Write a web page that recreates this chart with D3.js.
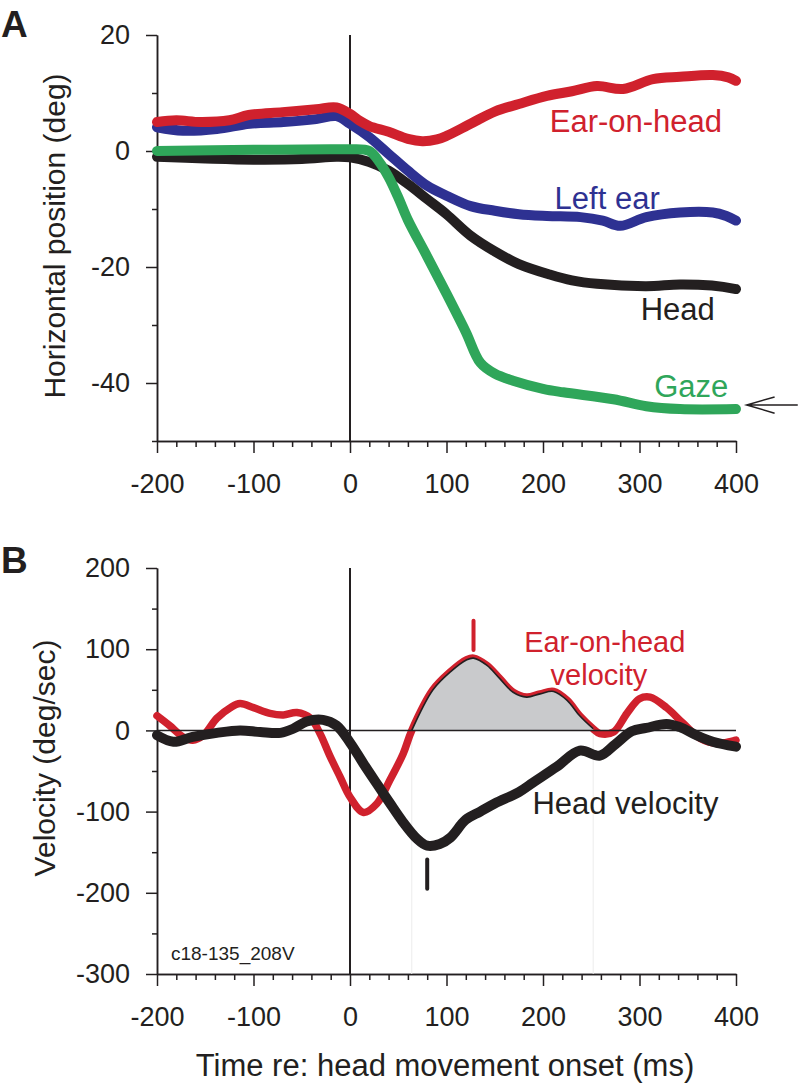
<!DOCTYPE html>
<html>
<head>
<meta charset="utf-8">
<script src="https://cdn.jsdelivr.net/npm/d3@7"></script>
<style>
    body { margin: 0; background: #fff; }
    text { font-family: "Liberation Sans", Arial, Helvetica, sans-serif; fill: #231f20; }
</style>
</head>
<body>
<div id="chart"></div>
<script>
// panel A: horizontal position (deg), [time ms, value]
const earOnHead = [[-200, 5.0], [-180, 5.3], [-155, 5.0], [-125, 5.3], [-105, 6.2], [-70, 6.7], [-35, 7.2], [-14, 7.5], [0, 6.4], [10, 5.2], [20, 4.3], [40, 3.3], [60, 2.1], [75, 1.7], [90, 2.0], [100, 2.6], [125, 4.7], [150, 6.8], [175, 8.1], [204, 9.5], [230, 10.3], [256, 11.2], [283, 10.7], [314, 12.4], [342, 12.8], [376, 13.1], [392, 12.7], [400, 12.1]]
const leftEar = [[-200, 4.1], [-173, 3.5], [-138, 3.8], [-104, 4.7], [-69, 5.0], [-35, 5.5], [-14, 6.0], [0, 4.7], [20, 2.4], [40, -0.5], [60, -3.4], [80, -6.0], [100, -7.7], [125, -9.5], [150, -10.3], [175, -10.9], [204, -11.2], [239, -11.4], [262, -12.0], [280, -12.9], [307, -11.4], [342, -10.6], [376, -10.6], [390, -11.2], [400, -12.0]]
const head = [[-200, -1.0], [-150, -1.3], [-100, -1.5], [-50, -1.4], [-14, -1.0], [0, -1.1], [20, -1.9], [40, -3.4], [60, -5.7], [80, -8.3], [100, -10.9], [125, -14.6], [150, -17.3], [175, -19.5], [207, -21.3], [230, -22.3], [256, -22.9], [307, -23.3], [342, -23.0], [375, -23.2], [400, -23.8]]
const gaze = [[-200, 0], [-100, 0.2], [-20, 0.3], [0, 0.3], [20, 0], [30, -1.8], [40, -4.5], [50, -8], [60, -11.9], [80, -18.2], [100, -24.6], [120, -31.2], [135, -36.5], [150, -38.4], [169, -39.6], [200, -41.0], [221, -41.6], [273, -42.8], [307, -44.0], [342, -44.5], [400, -44.5]]

// panel B: velocity (deg/sec)
const earVelocity = [[-200, 18], [-187, 6], [-173, -8], [-163, -12], [-152, -6], [-138, 15], [-124, 28], [-114, 33], [-100, 28], [-83, 21], [-69, 19], [-55, 22], [-41, 15], [-31, -4], [-21, -31], [-10, -58], [0, -82], [14, -101], [28, -90], [41, -62], [55, -29], [64, 0], [86, 50], [104, 72], [121, 87], [128, 89], [142, 80], [155, 64], [169, 47], [183, 41], [197, 45], [211, 48], [225, 37], [238, 18], [252, 2], [259, -4], [273, -2], [287, 21], [300, 39], [311, 41], [328, 28], [345, 9], [363, -10], [380, -16], [400, -12]]
const headVelocity = [[-200, -6], [-183, -14], [-163, -8], [-138, -3], [-114, 0], [-93, -2], [-72, -3], [-59, 2], [-45, 11], [-28, 13], [-14, 6], [0, -15], [14, -41], [28, -66], [41, -89], [55, -113], [69, -133], [80, -142], [93, -140], [104, -132], [120, -110], [135, -100], [150, -90], [175, -76], [190, -64], [214, -45], [238, -25], [259, -31], [275, -17], [292, -1], [307, 3], [328, 8], [342, 4], [359, -6], [376, -14], [400, -20]]
const shadeWindow = [64, 252]
const earPeak = 128, headPeak = 80

// ticks
const xMajor = [-200, -100, 0, 100, 200, 300, 400]
const yAMajor = [20, 0, -20, -40], yAMinor = [10, -10, -30, -50]
const yBMajor = [200, 100, 0, -100, -200, -300], yBMinor = [150, 50, -50, -150, -250]

const red = "#d0212d", blue = "#2e3192", green = "#2fa65a", black = "#231f20"

const svg = d3.select("#chart").append("svg")
    .attr("width", 801)
    .attr("height", 1084)

const x = d3.scaleLinear().domain([-200, 400]).range([157, 736])
const yA = d3.scaleLinear().domain([-50, 20]).range([441, 35])
const yB = d3.scaleLinear().domain([-300, 200]).range([974, 568])

const font = '"Liberation Sans", Arial, Helvetica, sans-serif'
const xMinor = d3.range(-200, 401, 20).filter(d => d % 100 !== 0)

// draw axes for one panel
const drawAxes = (y) => {
    const left = x.range()[0], base = y.range()[0]
    const styleAxis = g => g
        .attr("font-family", font)
        .attr("font-size", 27)
        .call(g => g.selectAll("path, line").attr("stroke", black).attr("stroke-width", 1.5))
        .call(g => g.selectAll("text").attr("fill", black))

    const yMaj = y === yA ? yAMajor : yBMajor
    const yMin = y === yA ? yAMinor : yBMinor

    svg.append("g").attr("transform", `translate(${left},0)`)
        .call(d3.axisLeft(y).tickValues(yMin).tickSize(5).tickFormat("").tickSizeOuter(0))
        .call(styleAxis)
    svg.append("g").attr("transform", `translate(${left},0)`)
        .call(d3.axisLeft(y).tickValues(yMaj).tickSize(11).tickPadding(16).tickSizeOuter(0).tickFormat(d => String(d)))
        .call(styleAxis)

    svg.append("g").attr("transform", `translate(0,${base})`)
        .call(d3.axisBottom(x).tickValues(xMinor).tickSize(6).tickFormat("").tickSizeOuter(0))
        .call(styleAxis)
    svg.append("g").attr("transform", `translate(0,${base})`)
        .call(d3.axisBottom(x).tickValues(xMajor).tickSize(12).tickPadding(21).tickSizeOuter(0).tickFormat(d => String(d)))
        .call(styleAxis)

    // onset line
    svg.append("line")
        .attr("x1", x(0)).attr("x2", x(0))
        .attr("y1", y.range()[1]).attr("y2", base)
        .attr("stroke", black).attr("stroke-width", 2)
}

const lineOf = (y) => d3.line()
    .x(d => x(d[0]))
    .y(d => y(d[1]))
    .curve(d3.curveCatmullRom.alpha(0.5))

const addLabel = (t, v, y, txt, color, anchor, size) => {
    svg.append("text")
        .attr("x", x(t)).attr("y", y(v))
        .attr("text-anchor", anchor || "start")
        .style("font-size", (size || 31) + "px")
        .style("fill", color)
        .text(txt)
}

/*
    PANEL A
*/
drawAxes(yA)

const seriesA = [[leftEar, blue], [head, black], [gaze, green], [earOnHead, red]]
seriesA.forEach(([data, color]) => {
    svg.append("path")
        .datum(data)
        .attr("d", lineOf(yA))
        .attr("fill", "none")
        .attr("stroke", color)
        .attr("stroke-width", 10)
        .attr("stroke-linecap", "round")
        .attr("stroke-linejoin", "round")
})

addLabel(207, 3.3, yA, "Ear-on-head", red)
addLabel(212, -10, yA, "Left ear", blue)
addLabel(378, -29.1, yA, "Head", black, "end")
addLabel(392, -42.4, yA, "Gaze", green, "end")

// arrow pointing at final gaze
svg.append("path")
    .attr("d", `M${x(464)},${yA(-43.8)}L${x(411)},${yA(-43.8)}M${x(440)},${yA(-42.4)}L${x(411)},${yA(-43.8)}L${x(440)},${yA(-45.2)}`)
    .attr("fill", "none")
    .attr("stroke", black)
    .attr("stroke-width", 1.5)

/*
    PANEL B
*/
drawAxes(yB)

// faint guides at shaded window edges
shadeWindow.forEach(t => {
    svg.append("line")
        .attr("x1", x(t)).attr("x2", x(t))
        .attr("y1", yB(0)).attr("y2", yB(-300))
        .attr("stroke", "#ececec").attr("stroke-width", 1)
})

svg.append("path")
    .datum(earVelocity)
    .attr("d", lineOf(yB))
    .attr("fill", "none")
    .attr("stroke", red)
    .attr("stroke-width", 7.5)
    .attr("stroke-linecap", "round")

const shaded = earVelocity.filter(d => d[0] >= shadeWindow[0] && d[0] <= shadeWindow[1])
svg.append("path")
    .datum(shaded)
    .attr("d", d3.area()
        .x(d => x(d[0]))
        .y0(yB(0))
        .y1(d => yB(Math.max(0, d[1])))
        .curve(d3.curveCatmullRom.alpha(0.5)))
    .attr("fill", "#c9cacc")

svg.append("path")
    .datum(shaded)
    .attr("d", lineOf(yB))
    .attr("fill", "none")
    .attr("stroke", black)
    .attr("stroke-width", 1.6)

// zero line
svg.append("line")
    .attr("x1", x(-200)).attr("x2", x(400))
    .attr("y1", yB(0)).attr("y2", yB(0))
    .attr("stroke", black).attr("stroke-width", 1.5)

svg.append("path")
    .datum(headVelocity)
    .attr("d", lineOf(yB))
    .attr("fill", "none")
    .attr("stroke", black)
    .attr("stroke-width", 10)
    .attr("stroke-linecap", "round")
    .attr("stroke-linejoin", "round")

// peak markers
svg.append("line")
    .attr("x1", x(earPeak)).attr("x2", x(earPeak))
    .attr("y1", yB(135)).attr("y2", yB(99))
    .attr("stroke", red).attr("stroke-width", 4).attr("stroke-linecap", "round")
svg.append("line")
    .attr("x1", x(headPeak)).attr("x2", x(headPeak))
    .attr("y1", yB(-159)).attr("y2", yB(-195))
    .attr("stroke", black).attr("stroke-width", 4).attr("stroke-linecap", "round")

addLabel(264, 97, yB, "Ear-on-head", red, "middle", 29)
addLabel(258, 56, yB, "velocity", red, "middle", 29)
addLabel(189, -102.5, yB, "Head velocity", black)

svg.append("text")
    .attr("x", x(-185.5)).attr("y", yB(-283))
    .style("font-size", "19px")
    .text("c18-135_208V")

// axis titles and panel letters
svg.append("text")
    .attr("transform", "translate(65,236) rotate(-90)")
    .attr("text-anchor", "middle")
    .style("font-size", "30px")
    .text("Horizontal position (deg)")

svg.append("text")
    .attr("transform", "translate(55,758) rotate(-90)")
    .attr("text-anchor", "middle")
    .style("font-size", "30px")
    .text("Velocity (deg/sec)")

svg.append("text")
    .attr("x", 445).attr("y", 1076)
    .attr("text-anchor", "middle")
    .style("font-size", "31px")
    .text("Time re: head movement onset (ms)")

svg.append("text")
    .attr("x", 1).attr("y", 37)
    .style("font-size", "37px").style("font-weight", "bold")
    .text("A")
svg.append("text")
    .attr("x", 1).attr("y", 573)
    .style("font-size", "37px").style("font-weight", "bold")
    .text("B")
</script>
</body>
</html>
